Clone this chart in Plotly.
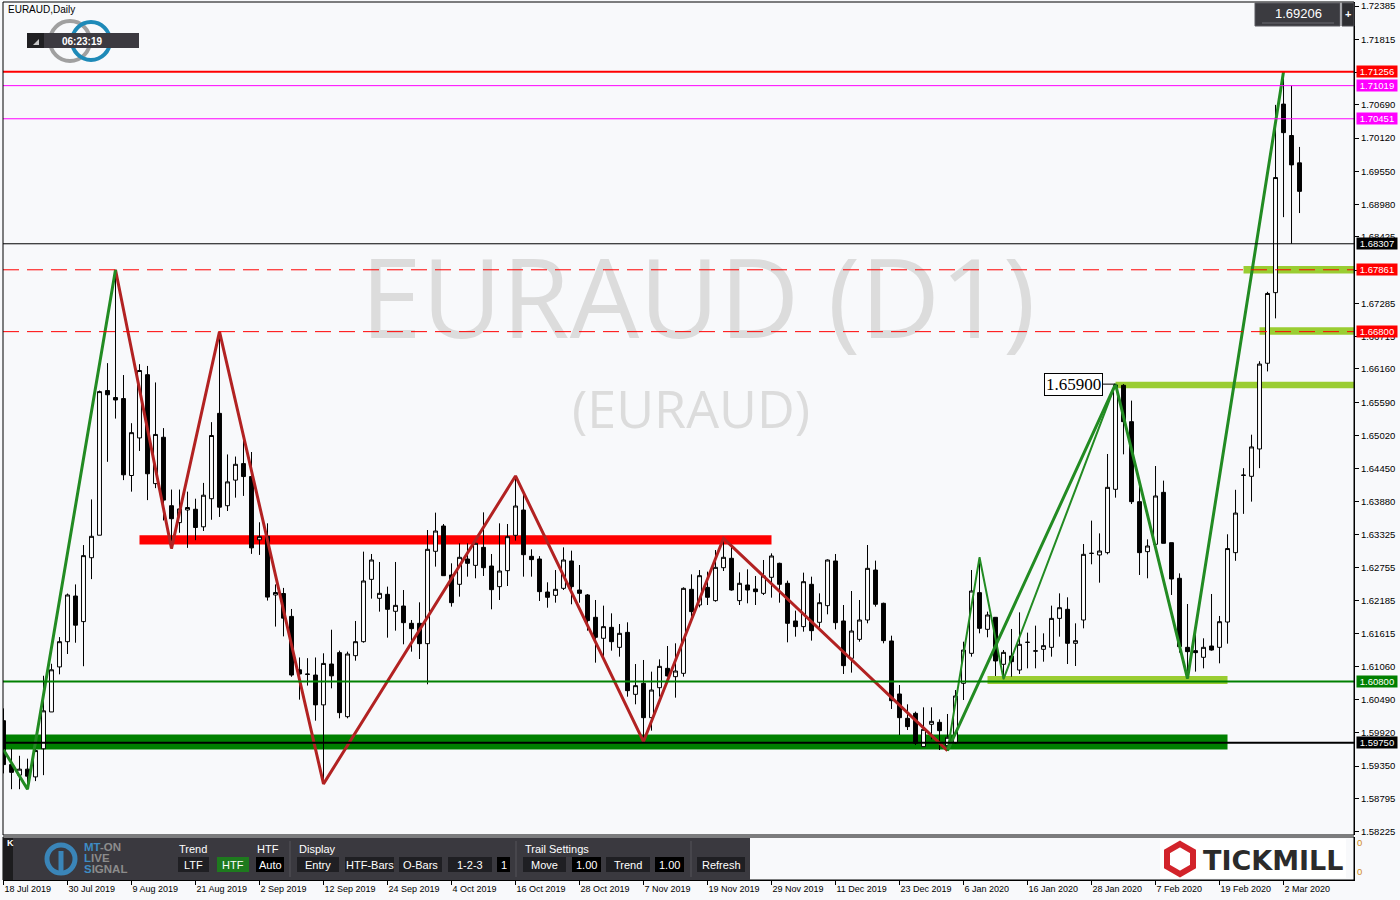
import plotly.graph_objects as go
import pandas as pd
import math

# ---------------- data ----------------
dates = [d for d in pd.bdate_range("2019-07-18", "2020-03-04")
         if (d.month, d.day) not in ((12, 25), (1, 1))]
date_labels = [f"{d.day} {d.strftime('%b %Y')}" for d in dates]
bars = list(range(len(dates)))

opens = [
    1.60128, 1.59375, 1.59194, 1.59297, 1.59164, 1.59646, 1.60278, 1.61050, 1.61483, 1.62266,
    1.61827, 1.62923, 1.63309, 1.65790, 1.65670, 1.65652, 1.64333, 1.64977, 1.66062, 1.64194,
    1.64989, 1.63815, 1.63525, 1.63742, 1.63754, 1.63453, 1.63935, 1.65399, 1.63815, 1.64254,
    1.64537, 1.64315, 1.63230, 1.63290, 1.62284, 1.62309, 1.61917, 1.61001, 1.60929, 1.60911,
    1.60399, 1.61100, 1.61295, 1.60197, 1.61243, 1.61483, 1.62552, 1.62227, 1.62295, 1.62004,
    1.62095, 1.61798, 1.61798, 1.61449, 1.63033, 1.63467, 1.62627, 1.62467, 1.62901, 1.62792,
    1.63101, 1.62781, 1.62427, 1.62701, 1.63307, 1.63741, 1.62947, 1.62901, 1.62335, 1.62278,
    1.62398, 1.62867, 1.62369, 1.62284, 1.61901, 1.61541, 1.61729, 1.61386, 1.61643, 1.60580,
    1.60769, 1.60180, 1.60694, 1.61026, 1.60883, 1.60940, 1.62381, 1.62112, 1.62415, 1.62187,
    1.62752, 1.62913, 1.62187, 1.62455, 1.62387, 1.62312, 1.62587, 1.62827, 1.62484, 1.61838,
    1.61741, 1.62467, 1.61815, 1.62101, 1.62867, 1.61838, 1.61198, 1.61523, 1.61855, 1.62712,
    1.62141, 1.61495, 1.60586, 1.60169, 1.60254, 1.59683, 1.60066, 1.60100, 1.59700, 1.59751,
    1.60769, 1.61283, 1.62324, 1.61695, 1.61901, 1.61095, 1.61238, 1.60997, 1.61472, 1.61320,
    1.61352, 1.61386, 1.61883, 1.62038, 1.61455, 1.61855, 1.62998, 1.62970, 1.63010, 1.64096,
    1.65880, 1.65256, 1.63884, 1.63027, 1.63153, 1.64044, 1.63181, 1.62570, 1.61386, 1.61329,
    1.61215, 1.61409, 1.61386, 1.61820, 1.63010, 1.64333, 1.64319, 1.64788, 1.66258, 1.67469,
    1.70703, 1.70164, 1.69695,
]
highs = [
    1.60339, 1.59646, 1.59526, 1.59477, 1.59766, 1.60899, 1.61104, 1.61562, 1.62309, 1.62465,
    1.63140, 1.63923, 1.65790, 1.66260, 1.67861, 1.66056, 1.65230, 1.66242, 1.66212, 1.65929,
    1.65146, 1.64092, 1.64092, 1.64056, 1.63935, 1.64206, 1.65248, 1.66800, 1.64694, 1.64658,
    1.65007, 1.64736, 1.63531, 1.63513, 1.62465, 1.62405, 1.62044, 1.61212, 1.61200, 1.61212,
    1.61284, 1.61688, 1.61329, 1.61312, 1.61838, 1.63027, 1.62987, 1.62850, 1.62427, 1.62850,
    1.62369, 1.61855, 1.62158, 1.63398, 1.63696, 1.63501, 1.62827, 1.63170, 1.63170, 1.63256,
    1.63701, 1.62987, 1.63513, 1.63501, 1.64325, 1.63999, 1.63067, 1.62950, 1.62501, 1.62712,
    1.63101, 1.63044, 1.62798, 1.62300, 1.62198, 1.62101, 1.61969, 1.61786, 1.61815, 1.61100,
    1.61169, 1.60969, 1.61180, 1.61409, 1.61455, 1.62415, 1.62638, 1.62712, 1.62684, 1.63055,
    1.63256, 1.63158, 1.62672, 1.62724, 1.62610, 1.62884, 1.62998, 1.62838, 1.62530, 1.62015,
    1.62667, 1.62598, 1.62312, 1.62895, 1.62987, 1.62112, 1.62352, 1.62198, 1.63141, 1.62873,
    1.62152, 1.61586, 1.60740, 1.60409, 1.60283, 1.60357, 1.60357, 1.60151, 1.60243, 1.60654,
    1.61483, 1.62712, 1.62930, 1.61998, 1.61901, 1.61340, 1.61701, 1.61986, 1.61638, 1.61758,
    1.61626, 1.62101, 1.62312, 1.62244, 1.61798, 1.63158, 1.63559, 1.63341, 1.64702, 1.65900,
    1.65900, 1.65617, 1.64227, 1.63238, 1.64496, 1.64245, 1.63181, 1.62655, 1.62129, 1.61655,
    1.61541, 1.62301, 1.61924, 1.63325, 1.64088, 1.64459, 1.65033, 1.66293, 1.67483, 1.70689,
    1.71256, 1.71019, 1.69968,
]
lows = [
    1.59224, 1.58953, 1.58953, 1.58953, 1.59092, 1.59194, 1.60278, 1.60923, 1.61272, 1.61465,
    1.61062, 1.62556, 1.63309, 1.64568, 1.65309, 1.64254, 1.64056, 1.64754, 1.63911, 1.64116,
    1.63562, 1.63080, 1.63351, 1.63092, 1.63224, 1.63381, 1.63574, 1.63622, 1.63724, 1.63953,
    1.63983, 1.62989, 1.62971, 1.62188, 1.61742, 1.61574, 1.60881, 1.60489, 1.60730, 1.60128,
    1.59044, 1.60683, 1.60169, 1.60169, 1.61157, 1.61466, 1.62221, 1.61998, 1.61552, 1.61672,
    1.61438, 1.61312, 1.61186, 1.60752, 1.62770, 1.62615, 1.62084, 1.62255, 1.62598, 1.62570,
    1.62610, 1.62038, 1.62198, 1.62438, 1.63216, 1.62598, 1.62598, 1.62181, 1.62066, 1.62152,
    1.62369, 1.62124, 1.62152, 1.61672, 1.61123, 1.61226, 1.61329, 1.61226, 1.60540, 1.60409,
    1.59770, 1.59957, 1.60540, 1.60883, 1.60523, 1.60883, 1.61912, 1.62072, 1.62112, 1.62169,
    1.62695, 1.62358, 1.62112, 1.62141, 1.62112, 1.62284, 1.62238, 1.62152, 1.61472, 1.61569,
    1.61655, 1.61501, 1.61723, 1.61952, 1.61695, 1.60929, 1.60952, 1.61483, 1.61798, 1.62084,
    1.61455, 1.60329, 1.59883, 1.59968, 1.59711, 1.59683, 1.59808, 1.59625, 1.59614, 1.59728,
    1.60483, 1.61226, 1.61626, 1.61558, 1.60895, 1.60840, 1.60883, 1.60929, 1.61026, 1.61026,
    1.61140, 1.61226, 1.61569, 1.61100, 1.61066, 1.61712, 1.62810, 1.62495, 1.62981, 1.63953,
    1.64696, 1.63844, 1.62627, 1.62570, 1.63153, 1.63170, 1.62284, 1.61295, 1.60850, 1.60969,
    1.61026, 1.61329, 1.61112, 1.61449, 1.62870, 1.63675, 1.63885, 1.64459, 1.66118, 1.67028,
    1.68764, 1.68307, 1.68834,
]
closes = [
    1.59375, 1.59242, 1.59297, 1.59176, 1.59616, 1.60297, 1.61001, 1.61483, 1.62284, 1.61766,
    1.62959, 1.63290, 1.65772, 1.65718, 1.65628, 1.64345, 1.65068, 1.66134, 1.64363, 1.65037,
    1.63911, 1.63592, 1.63760, 1.63784, 1.63441, 1.63995, 1.65019, 1.63790, 1.64224, 1.64525,
    1.64315, 1.63092, 1.63284, 1.62248, 1.62327, 1.61887, 1.60911, 1.60929, 1.60923, 1.60399,
    1.61110, 1.60897, 1.60266, 1.61272, 1.61483, 1.62524, 1.62884, 1.62312, 1.62038, 1.62106,
    1.61809, 1.61706, 1.61449, 1.63067, 1.63381, 1.62615, 1.62152, 1.62930, 1.62827, 1.63170,
    1.62752, 1.62375, 1.62695, 1.63284, 1.63810, 1.62975, 1.62890, 1.62341, 1.62244, 1.62381,
    1.62884, 1.62427, 1.62312, 1.61844, 1.61558, 1.61741, 1.61483, 1.61626, 1.60643, 1.60729,
    1.60180, 1.60654, 1.61060, 1.60895, 1.60980, 1.62398, 1.61998, 1.62615, 1.62244, 1.62758,
    1.62930, 1.62369, 1.62484, 1.62369, 1.62341, 1.62610, 1.62953, 1.62467, 1.61798, 1.61741,
    1.62512, 1.61672, 1.62152, 1.62884, 1.61809, 1.61072, 1.61666, 1.61855, 1.62741, 1.62124,
    1.61501, 1.60471, 1.60180, 1.60026, 1.59740, 1.59980, 1.60117, 1.59957, 1.59843, 1.60552,
    1.61340, 1.62352, 1.61712, 1.61941, 1.61152, 1.61300, 1.61140, 1.61438, 1.61472, 1.61326,
    1.61415, 1.61883, 1.62066, 1.61455, 1.61500, 1.62981, 1.62998, 1.63038, 1.64130, 1.65885,
    1.65256, 1.63884, 1.63010, 1.63124, 1.63982, 1.63170, 1.62558, 1.61398, 1.61312, 1.61295,
    1.61386, 1.61340, 1.61826, 1.63080, 1.63689, 1.64340, 1.64823, 1.66244, 1.67455, 1.69443,
    1.70213, 1.69660, 1.69206,
]

# zigzag pivots (bar index, price)
red_zz_bar = [14, 21, 27, 40, 64, 80, 90, 118]
red_zz_price = [1.67861, 1.63080, 1.66800, 1.59044, 1.64325, 1.59770, 1.63256, 1.59614]
green_zz1_bar = [0, 3, 14]
green_zz1_price = [1.59630, 1.58953, 1.67861]
green_zz2_bar = [118, 139, 148, 160]
green_zz2_price = [1.59614, 1.65900, 1.60850, 1.71256]
green_zz3_bar = [118, 122, 125, 139]
green_zz3_price = [1.59614, 1.62930, 1.60840, 1.65900]

# horizontal levels
level_prices = [1.71256, 1.71019, 1.70451, 1.68307, 1.67861, 1.66800, 1.60800, 1.59750]

# zones (start bar / end bar, None = chart edge)
zone_start = [17, None, 139, 123, 155, 157]
zone_end = [96, 153, None, 153, None, None]
zone_low = [1.63150, 1.59634, 1.65828, 1.60757, 1.67798, 1.66748]
zone_high = [1.63310, 1.59890, 1.65942, 1.60895, 1.67924, 1.66874]

price_ticks = [1.72385, 1.71815, 1.71250, 1.70690, 1.70120, 1.69550, 1.68980, 1.68425,
               1.67855, 1.67285, 1.66715, 1.66160, 1.65590, 1.65020, 1.64450, 1.63880,
               1.63325, 1.62755, 1.62185, 1.61615, 1.61060, 1.60490, 1.59920, 1.59350,
               1.58795, 1.58225]
pivot_bar = 139
pivot_price = 1.65900
last_price = 1.69206
timer_text = "06:23:19"
symbol_text = "EURAUD,Daily"

# ---------------- styles ----------------
BG = "#F8F9FB"
level_colors = ["#FF0000", "#FF00FF", "#FF00FF", "#000000", "#FF0000", "#FF0000", "#008000", "#000000"]
level_widths = [2, 1, 1, 1, 1, 1, 2, 2]
level_dash = ["solid", "solid", "solid", "solid", "16px,8px", "16px,8px", "solid", "solid"]
zone_colors = ["#FF0000", "#008000", "#9ACD32", "#9ACD32", "#9ACD32", "#9ACD32"]

W, H = 1400, 900
ML, MR, MT, MB = 3, 46, 2, 20
PW, PH = W - ML - MR, H - MT - MB
MAIN_BOTTOM_PX = 835
SUB_TOP_PX = 837
XR = [-0.0625, 168.81]
YR = [1.581676, 1.724536]


def px(x):
    return (x - ML) / PW


def py(y):
    return (H - MB - y) / PH


MAIN_DOM = [py(MAIN_BOTTOM_PX), 1]
SUB_DOM = [0, py(SUB_TOP_PX)]

fig = go.Figure()

# watermark (on a hidden overlay axis in pixel units)
fig.add_trace(go.Scatter(
    x=[698, 691], y=[310, 415], mode="text",
    text=["EURAUD (D1)", "(EURAUD)"],
    textfont=dict(family="Open Sans", size=[110, 52], color="#DCDCDC"),
    textposition="middle center", xaxis="x3", yaxis="y3",
    hoverinfo="skip", showlegend=False))

fig.add_trace(go.Candlestick(
    x=bars, open=opens, high=highs, low=lows, close=closes,
    increasing=dict(line=dict(color="black", width=1), fillcolor="white"),
    decreasing=dict(line=dict(color="black", width=1), fillcolor="black"),
    whiskerwidth=0, hoverinfo="skip", showlegend=False))

for bx, pr, col, wd in [
    (green_zz3_bar, green_zz3_price, "#228B22", 2),
    (red_zz_bar, red_zz_price, "#B22222", 3),
    (green_zz1_bar, green_zz1_price, "#228B22", 3),
    (green_zz2_bar, green_zz2_price, "#228B22", 3),
]:
    fig.add_trace(go.Scatter(x=bx, y=pr, mode="lines",
                             line=dict(color=col, width=wd),
                             hoverinfo="skip", showlegend=False))

# dummy for sub window
fig.add_trace(go.Scatter(x=[None], y=[None], xaxis="x", yaxis="y2",
                         showlegend=False, hoverinfo="skip"))

shapes = []
annotations = []

# zones
for s, e, lo, hi, c in zip(zone_start, zone_end, zone_low, zone_high, zone_colors):
    shapes.append(dict(type="rect", xref="x", yref="y",
                       x0=XR[0] if s is None else s, x1=XR[1] if e is None else e,
                       y0=lo, y1=hi, fillcolor=c, line=dict(width=0), layer="below"))

# level lines and labels
for p, c, w, d in zip(level_prices, level_colors, level_widths, level_dash):
    shapes.append(dict(type="line", xref="paper", yref="y", x0=0, x1=1, y0=p, y1=p,
                       line=dict(color=c, width=w, dash=d), layer="above"))
    annotations.append(dict(xref="paper", yref="y", x=1, y=p, xshift=2, xanchor="left",
                            yanchor="middle", text=f"{p:.5f}", showarrow=False,
                            bgcolor=c, width=40, height=11, borderpad=0,
                            font=dict(family="Liberation Sans", size=9.5, color="white")))

# frames
shapes.append(dict(type="rect", xref="paper", yref="paper", x0=0, x1=1,
                   y0=MAIN_DOM[0], y1=1, line=dict(color="black", width=1)))
shapes.append(dict(type="rect", xref="paper", yref="paper", x0=0, x1=1,
                   y0=0, y1=SUB_DOM[1], line=dict(color="black", width=1)))

# pivot label
annotations.append(dict(x=pivot_bar, y=pivot_price, xref="x", yref="y",
                        text=f"{pivot_price:.5f}", showarrow=True, arrowhead=0,
                        arrowwidth=1, arrowcolor="black", ax=-42, ay=0, standoff=0,
                        bgcolor="white", bordercolor="black", borderwidth=1, borderpad=1,
                        font=dict(family="Liberation Serif", size=17, color="black")))


def rect_px(x0, y0, x1, y1, fill, line=None, lw=0):
    return dict(type="rect", xref="paper", yref="paper", x0=px(x0), x1=px(x1),
                y0=py(y1), y1=py(y0), fillcolor=fill,
                line=dict(color=line or fill, width=lw), layer="above")


def text_px(x, y, text, size, color, xanchor="left", family="Liberation Sans"):
    return dict(xref="paper", yref="paper", x=px(x), y=py(y), text=text,
                showarrow=False, xanchor=xanchor, yanchor="middle",
                font=dict(family=family, size=size, color=color))


def circle_px(cx, cy, r, color, lw):
    return dict(type="circle", xref="paper", yref="paper",
                x0=px(cx - r), x1=px(cx + r), y0=py(cy + r), y1=py(cy - r),
                line=dict(color=color, width=lw), layer="above")


# top-left
annotations.append(text_px(6, 10, symbol_text, 10, "black"))
shapes.append(circle_px(70, 41, 20, "#A0A0A0", 4))
shapes.append(circle_px(91, 41, 19, "#1E8AB8", 4))
shapes.append(rect_px(27, 33, 139, 48, "#3C3A40"))
shapes.append(rect_px(27, 33, 44, 48, "#202022"))
shapes.append(dict(type="path", xref="paper", yref="paper",
                   path=f"M {px(33)} {py(45)} L {px(39)} {py(45)} L {px(39)} {py(39)} Z",
                   fillcolor="#C8C8C8", line=dict(width=0), layer="above"))
annotations.append(text_px(82, 41, f"<b>{timer_text}</b>", 10, "white", xanchor="center"))

# top-right price box
shapes.append(rect_px(1255, 3, 1340, 26, "#3B3B40", "#5A5A60", 1))
shapes.append(dict(type="line", xref="paper", yref="paper", x0=px(1262), x1=px(1334),
                   y0=py(23), y1=py(23), line=dict(color="#6A6A70", width=1), layer="above"))
shapes.append(rect_px(1342, 3, 1354, 26, "#2E2E32", "#4A4A50", 1))
annotations.append(text_px(1298, 14, f"{last_price:.5f}", 13, "white", xanchor="center"))
annotations.append(text_px(1348, 14, "<b>+</b>", 11, "white", xanchor="center"))

# MT-ON panel
shapes.append(rect_px(3, 838, 750, 880, "#3A393F"))
shapes.append(rect_px(3, 838, 13, 880, "#1C1C1E"))
annotations.append(text_px(5, 843, "<b>K</b>", 9, "white"))
shapes.append(circle_px(61, 859, 14, "#3A85B8", 5))
shapes.append(dict(type="line", xref="paper", yref="paper", x0=px(61), x1=px(61),
                   y0=py(873), y1=py(851), line=dict(color="#3A85B8", width=5), layer="above"))
annotations.append(text_px(82, 847, "<b><span style='color:#3E8CC4'>MT</span>-ON</b>", 11.5, "#8C8C8C"))
annotations.append(text_px(82, 858, "<b><span style='color:#3E8CC4'>L</span>IVE</b>", 11.5, "#8C8C8C"))
annotations.append(text_px(82, 869, "<b><span style='color:#3E8CC4'>S</span>IGNAL</b>", 11.5, "#8C8C8C"))

for label, x in [("Trend", 177), ("HTF", 255), ("Display", 297), ("Trail Settings", 523)]:
    annotations.append(text_px(x, 849, label, 11, "white"))

buttons = [("LTF", 178, 209, "#1F1F23"), ("HTF", 217, 249, "#1E7A1E"),
           ("Auto", 256, 284, "#000000"), ("Entry", 297, 339, "#1F1F23"),
           ("HTF-Bars", 345, 394, "#1F1F23"), ("O-Bars", 399, 442, "#1F1F23"),
           ("1-2-3", 448, 492, "#1F1F23"), ("1", 497, 510, "#000000"),
           ("Move", 523, 566, "#1F1F23"), ("1.00", 572, 601, "#000000"),
           ("Trend", 606, 650, "#1F1F23"), ("1.00", 655, 684, "#000000"),
           ("Refresh", 697, 745, "#1F1F23")]
for label, x0, x1, col in buttons:
    shapes.append(rect_px(x0, 857, x1, 872, col))
    annotations.append(text_px((x0 + x1) / 2, 864.5, label, 11, "white", xanchor="center"))
for x in [290, 516, 691]:
    shapes.append(dict(type="line", xref="paper", yref="paper", x0=px(x), x1=px(x),
                       y0=py(877), y1=py(841), line=dict(color="#55555A", width=1), layer="above"))

# Tickmill logo
shapes.append(rect_px(1160, 839, 1346, 878, "#FFFFFF"))
hexpts = [(1180 + 15 * math.cos(math.radians(a)), 859 - 15 * math.sin(math.radians(a)))
          for a in (90, 30, -30, -90, -150, 150)]
path = "M " + " L ".join(f"{px(x)} {py(y)}" for x, y in hexpts) + " Z"
shapes.append(dict(type="path", xref="paper", yref="paper", path=path,
                   line=dict(color="#D2232A", width=6), layer="above"))
annotations.append(text_px(1201, 860, "<b>TICKMILL</b>", 27, "#2B2B2B", family="DejaVu Sans"))

tick_font = dict(family="Liberation Sans", size=9.5, color="black")
fig.update_layout(
    width=W, height=H, margin=dict(l=ML, r=MR, t=MT, b=MB),
    paper_bgcolor=BG, plot_bgcolor=BG, showlegend=False,
    shapes=shapes, annotations=annotations,
    xaxis=dict(type="linear", range=XR, anchor="y2", domain=[0, 1],
               tickmode="array", tickvals=bars[::8], ticktext=date_labels[::8],
               ticks="outside", ticklen=4, tickcolor="black",
               ticklabelposition="outside right",
               tickfont=dict(family="Liberation Sans", size=9, color="black"),
               showline=True, linecolor="black", showgrid=False, zeroline=False,
               rangeslider=dict(visible=False), automargin=False, fixedrange=True),
    yaxis=dict(domain=MAIN_DOM, anchor="x", side="right", range=YR,
               tickmode="array", tickvals=price_ticks,
               ticktext=[f"{v:.5f}" for v in price_ticks],
               ticks="outside", ticklen=4, tickcolor="black", tickfont=tick_font,
               showline=True, linecolor="black", showgrid=False, zeroline=False,
               automargin=False, fixedrange=True),
    yaxis2=dict(domain=SUB_DOM, anchor="x", side="right", range=[0, 1],
                tickmode="array", tickvals=[0.19, 0.86], ticktext=["0", "0"],
                ticks="", tickfont=dict(family="Liberation Sans", size=9.5, color="#D08B1F"),
                showline=True, linecolor="black", showgrid=False, zeroline=False,
                automargin=False, fixedrange=True),
    xaxis3=dict(overlaying="x", anchor="y3", range=[ML, W - MR], visible=False, fixedrange=True),
    yaxis3=dict(overlaying="y", anchor="x3", range=[MAIN_BOTTOM_PX, MT], visible=False, fixedrange=True),
)

fig.write_html("out.html", config={"displayModeBar": False},
               post_script="document.body.style.margin='0';document.body.style.overflow='hidden';")
